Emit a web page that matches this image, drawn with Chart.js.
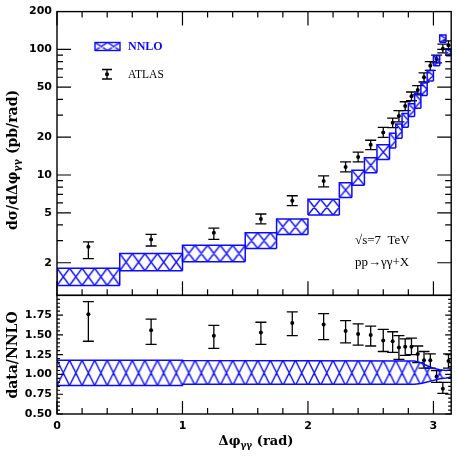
<!DOCTYPE html>
<html>
<head>
<meta charset="utf-8">
<title>d&sigma;/d&Delta;&phi; NNLO vs ATLAS</title>
<script src="https://cdn.jsdelivr.net/npm/chart.js@4.4.1/dist/chart.umd.min.js"></script>
<style>
  html, body { margin: 0; padding: 0; background: #fff; }
  canvas { display: block; }
</style>
</head>
<body>
<canvas id="dphi" width="458" height="456"></canvas>
<script>
// bin edges of the measurement (rad)
const binEdges = [0, 0.5, 1.0, 1.5, 1.75, 2.0, 2.25, 2.35, 2.45, 2.55, 2.65, 2.7, 2.75, 2.8, 2.85, 2.9, 2.95, 3.0, 3.05, 3.1, Math.PI];
const binCenters = [0.25, 0.75, 1.25, 1.625, 1.875, 2.125, 2.3, 2.4, 2.5, 2.6, 2.675, 2.725, 2.775, 2.825, 2.875, 2.925, 2.975, 3.025, 3.075, 3.12];

// NNLO band (pb/rad)
const nnloLow  = [1.32, 1.73, 2.04, 2.60, 3.35, 4.80, 6.62, 8.28, 10.4, 13.3, 16.4, 19.6, 24.0, 29.2, 34.0, 43.0, 56.0, 74.0, 114, 89];
const nnloHigh = [1.81, 2.37, 2.76, 3.47, 4.47, 6.41, 8.69, 10.9, 13.7, 17.4, 21.5, 25.5, 30.9, 37.0, 44.5, 54.0, 68.0, 89.0, 130, 101];

// ATLAS data (pb/rad)
const atlasXsec = [2.68, 3.07, 3.47, 4.47, 6.24, 8.95, 11.6, 13.9, 17.4, 21.8, 26.1, 29.5, 35.4, 42.4, 47.5, 60, 74, 84, 101, 108];
const atlasLow  = [2.16, 2.72, 3.07, 4.08, 5.70, 8.04, 10.6, 12.7, 15.9, 19.9, 23.8, 26.5, 32.5, 39.0, 43.5, 55, 68, 78, 94, 100];
const atlasHigh = [2.93, 3.37, 3.78, 4.89, 6.83, 9.82, 12.7, 15.2, 18.9, 23.9, 28.4, 32.5, 38.3, 45.8, 51.5, 65, 80, 90, 110, 117];

// data/NNLO
const ratio     = [1.76, 1.56, 1.49, 1.53, 1.65, 1.63, 1.55, 1.51, 1.50, 1.43, 1.42, 1.34, 1.35, 1.35, 1.26, 1.18, 1.18, 0.975, 0.82, 1.17];
const ratioLow  = [1.42, 1.38, 1.33, 1.38, 1.49, 1.44, 1.40, 1.37, 1.36, 1.29, 1.28, 1.19, 1.24, 1.25, 1.15, 1.08, 1.08, 0.90, 0.76, 1.08];
const ratioHigh = [1.92, 1.70, 1.62, 1.66, 1.79, 1.77, 1.68, 1.64, 1.61, 1.57, 1.54, 1.49, 1.45, 1.46, 1.36, 1.29, 1.26, 1.05, 0.90, 1.26];

// NNLO uncertainty in the ratio panel
const ratioBandX  = [0, 1.0, 1.0, 2.85, 2.9, 2.95, 3.0, 3.05, 3.1, Math.PI];
const ratioBandUp = [1.18, 1.18, 1.175, 1.17, 1.15, 1.11, 1.08, 1.06, 1.05, 1.06];
const ratioBandLo = [0.86, 0.86, 0.875, 0.875, 0.885, 0.905, 0.925, 0.945, 0.955, 0.965];

// ticks
const xMajor = [0, 1, 2, 3];
const xMinor = [0.2, 0.4, 0.6, 0.8, 1.2, 1.4, 1.6, 1.8, 2.2, 2.4, 2.6, 2.8];
const topLabels = [2, 5, 10, 20, 50, 100, 200];
const topMinor = [3, 4, 6, 7, 8, 9, 30, 40, 60, 70, 80, 90];
const ratioLabels = [0.5, 0.75, 1.0, 1.25, 1.5, 1.75];
const ratioMinor = [];
for (let v = 0.55; v < 2.0; v += 0.05) ratioMinor.push(+v.toFixed(2));

const BLUE = '#0a0aff';
const TICK_FONT = {family: 'DejaVu Sans', weight: 'bold', size: 11};
const CLEAR = 'rgba(0,0,0,0)';

// cross hatch, one X per 0.1 rad column, spanning the box height
function hatchFill(chart, x0, yHi, yLo, axisId) {
    const xs = chart.scales.x, ys = chart.scales[axisId];
    if (!xs || !ys) return CLEAR;
    const left = xs.getPixelForValue(x0);
    const top = ys.getPixelForValue(yHi);
    const h = ys.getPixelForValue(yLo) - top;
    const cell = xs.getPixelForValue(0.1) - xs.getPixelForValue(0);
    if (!isFinite(left + top + h + cell) || cell < 2 || h < 1) return CLEAR;
    return makeHatch(chart.ctx, left, top, cell, h);
}

function makeHatch(ctx, left, top, cell, h) {
    const tw = Math.round(cell * 4), th = Math.max(2, Math.round(h));
    const c = document.createElement('canvas');
    c.width = tw; c.height = th;
    const g = c.getContext('2d');
    const w = tw / 4;
    g.strokeStyle = BLUE;
    g.lineWidth = 1.4;
    g.beginPath();
    for (let k = -1; k <= 4; k++) {
        g.moveTo(k * w, 0); g.lineTo((k + 1) * w, th);
        g.moveTo(k * w, th); g.lineTo((k + 1) * w, 0);
    }
    g.stroke();
    const pat = ctx.createPattern(c, 'repeat');
    pat.setTransform(new DOMMatrix().translate(left, top).scale(cell * 4 / tw, h / th));
    return pat;
}

const datasets = [];

// NNLO boxes: outline (3 sides) + bottom edge filled up to it
nnloLow.forEach((lo, i) => {
    const hi = nnloHigh[i], e0 = binEdges[i], e1 = binEdges[i + 1];
    datasets.push({
        yAxisID: 'yTop',
        data: [{x: e0, y: lo}, {x: e0, y: hi}, {x: e1, y: hi}, {x: e1, y: lo}],
        borderColor: BLUE, borderWidth: 1.5, pointRadius: 0, fill: false
    });
    datasets.push({
        yAxisID: 'yTop',
        data: [{x: e0, y: lo}, {x: e1, y: lo}],
        borderColor: BLUE, borderWidth: 1.5, pointRadius: 0, fill: '-1',
        backgroundColor: (c) => hatchFill(c.chart, e0, hi, lo, 'yTop')
    });
});

// ratio band
datasets.push({
    yAxisID: 'yRatio',
    data: ratioBandX.map((x, i) => ({x, y: ratioBandUp[i]})),
    borderColor: BLUE, borderWidth: 1.5, pointRadius: 0, fill: false
});
datasets.push({
    yAxisID: 'yRatio',
    data: ratioBandX.map((x, i) => ({x, y: ratioBandLo[i]})),
    borderColor: BLUE, borderWidth: 1.5, pointRadius: 0, fill: '-1',
    backgroundColor: (c) => hatchFill(c.chart, 0, ratioBandUp[0], ratioBandLo[0], 'yRatio')
});

// error bars (caps are 'line' point style) and points
function errorBars(axis, lows, highs) {
    return {
        yAxisID: axis,
        data: binCenters.flatMap((x, i) => [{x, y: lows[i]}, {x, y: highs[i]}, {x, y: null}]),
        borderColor: '#000', borderWidth: 1.3, spanGaps: false,
        pointStyle: 'line', pointRadius: 5.5, pointBorderWidth: 1.3,
        pointBorderColor: '#000', fill: false
    };
}
function dots(axis, values) {
    return {
        yAxisID: axis,
        data: binCenters.map((x, i) => ({x, y: values[i]})),
        showLine: false, pointRadius: 2, pointBorderWidth: 0,
        pointBackgroundColor: '#000', fill: false
    };
}
datasets.push(errorBars('yTop', atlasLow, atlasHigh), dots('yTop', atlasXsec));
datasets.push(errorBars('yRatio', ratioLow, ratioHigh), dots('yRatio', ratio));

function richText(ctx, parts, x, y, align) {
    let w = 0;
    parts.forEach(p => { ctx.font = p[1]; w += ctx.measureText(p[0]).width; });
    let cx = align === 'center' ? x - w / 2 : x;
    parts.forEach(p => {
        ctx.font = p[1];
        ctx.fillText(p[0], cx, y + (p[2] || 0));
        cx += ctx.measureText(p[0]).width;
    });
}

// frame, inward ticks, titles, legend and labels
const decor = {
    id: 'decor',
    afterDraw(chart) {
        const {ctx, chartArea: a} = chart;
        const {x, yTop, yRatio} = chart.scales;
        ctx.save();
        ctx.strokeStyle = '#000';
        ctx.lineWidth = 1.4;
        ctx.strokeRect(a.left, yTop.top, a.right - a.left, yTop.bottom - yTop.top);
        ctx.strokeRect(a.left, yRatio.top, a.right - a.left, yRatio.bottom - yRatio.top);

        ctx.lineWidth = 1.2;
        ctx.beginPath();
        const xTicks = (y0, dir, vals, len) => vals.forEach(v => {
            const px = x.getPixelForValue(v);
            ctx.moveTo(px, y0); ctx.lineTo(px, y0 + dir * len);
        });
        const yTicks = (s, vals, len) => vals.forEach(v => {
            const py = s.getPixelForValue(v);
            ctx.moveTo(a.left, py); ctx.lineTo(a.left + len, py);
            ctx.moveTo(a.right, py); ctx.lineTo(a.right - len, py);
        });
        xTicks(yTop.top, 1, xMajor, 14); xTicks(yTop.top, 1, xMinor, 6);
        xTicks(yTop.bottom, -1, xMajor, 14); xTicks(yTop.bottom, -1, xMinor, 6);
        xTicks(yRatio.bottom, -1, xMajor, 13); xTicks(yRatio.bottom, -1, xMinor, 6);
        yTicks(yTop, topLabels.slice(0, -1), 14); yTicks(yTop, topMinor, 6);
        yTicks(yRatio, ratioLabels, 6); yTicks(yRatio, ratioMinor, 3);
        ctx.stroke();

        // axis titles
        const T = 'bold 14px "DejaVu Serif"', S = 'bold 9.5px "DejaVu Serif"';
        ctx.fillStyle = '#000';
        ctx.textBaseline = 'alphabetic';
        ctx.save();
        ctx.translate(17, 160); ctx.rotate(-Math.PI / 2);
        richText(ctx, [['d\u03c3/d\u0394\u03c6', T], ['\u03b3\u03b3', S, 3], [' (pb/rad)', T]], 0, 0, 'center');
        ctx.restore();
        ctx.save();
        ctx.translate(17, 355); ctx.rotate(-Math.PI / 2);
        richText(ctx, [['data/NNLO', T]], 0, 0, 'center');
        ctx.restore();
        richText(ctx, [['\u0394\u03c6', 'bold 13px "DejaVu Serif"'], ['\u03b3\u03b3', 'bold 9px "DejaVu Serif"', 3], [' (rad)', 'bold 13px "DejaVu Serif"']], 256, 445, 'center');

        // legend
        ctx.fillStyle = makeHatch(ctx, 95, 42.5, 12.5, 8);
        ctx.fillRect(95, 42.5, 25, 8);
        ctx.strokeStyle = BLUE; ctx.lineWidth = 1.4;
        ctx.strokeRect(95, 42.5, 25, 8);
        ctx.textBaseline = 'middle';
        ctx.fillStyle = BLUE;
        ctx.font = 'bold 12px "Liberation Serif"';
        ctx.fillText('NNLO', 128, 47);
        ctx.strokeStyle = '#000'; ctx.lineWidth = 1.3;
        ctx.beginPath();
        ctx.moveTo(107, 69.5); ctx.lineTo(107, 79);
        ctx.moveTo(102, 69.5); ctx.lineTo(112, 69.5);
        ctx.moveTo(102, 79); ctx.lineTo(112, 79);
        ctx.stroke();
        ctx.fillStyle = '#000';
        ctx.beginPath(); ctx.arc(107, 74.3, 2, 0, Math.PI * 2); ctx.fill();
        ctx.font = '11.5px "Liberation Serif"';
        ctx.fillText('ATLAS', 128, 75);

        // process labels
        ctx.font = '13px "Liberation Serif"';
        ctx.fillText('\u221as=7  TeV', 355, 241);
        ctx.fillText('pp\u2192\u03b3\u03b3+X', 355, 263);
        ctx.restore();
    }
};

new Chart(document.getElementById('dphi'), {
    type: 'line',
    data: {datasets},
    options: {
        responsive: false,
        animation: false,
        events: [],
        layout: {padding: {top: 7, right: 5, bottom: 0, left: 0}},
        plugins: {legend: {display: false}, tooltip: {enabled: false}},
        scales: {
            x: {
                type: 'linear', min: 0, max: Math.PI, position: 'bottom',
                afterBuildTicks: s => { s.ticks = xMajor.map(v => ({value: v})); },
                afterFit: s => { s.height = 42; },
                ticks: {callback: v => String(v), font: TICK_FONT, color: '#000', padding: 6, maxRotation: 0, autoSkip: false},
                grid: {display: false, drawTicks: false}, border: {display: false}
            },
            yRatio: {
                type: 'linear', min: 0.5, max: 2.0, position: 'left',
                stack: 'panels', stackWeight: 120,
                afterBuildTicks: s => { s.ticks = ratioLabels.map(v => ({value: v})); },
                afterFit: s => { s.width = 57; },
                ticks: {callback: v => v.toFixed(2), font: TICK_FONT, color: '#000', padding: 5, autoSkip: false},
                grid: {display: false, drawTicks: false}, border: {display: false}
            },
            yTop: {
                type: 'logarithmic', min: 1.1, max: 200, position: 'left',
                stack: 'panels', stackWeight: 287,
                afterBuildTicks: s => { s.ticks = topLabels.map(v => ({value: v})); },
                afterFit: s => { s.width = 57; },
                ticks: {callback: v => String(v), font: TICK_FONT, color: '#000', padding: 5, autoSkip: false},
                grid: {display: false, drawTicks: false}, border: {display: false}
            }
        }
    },
    plugins: [decor]
});
</script>
</body>
</html>
